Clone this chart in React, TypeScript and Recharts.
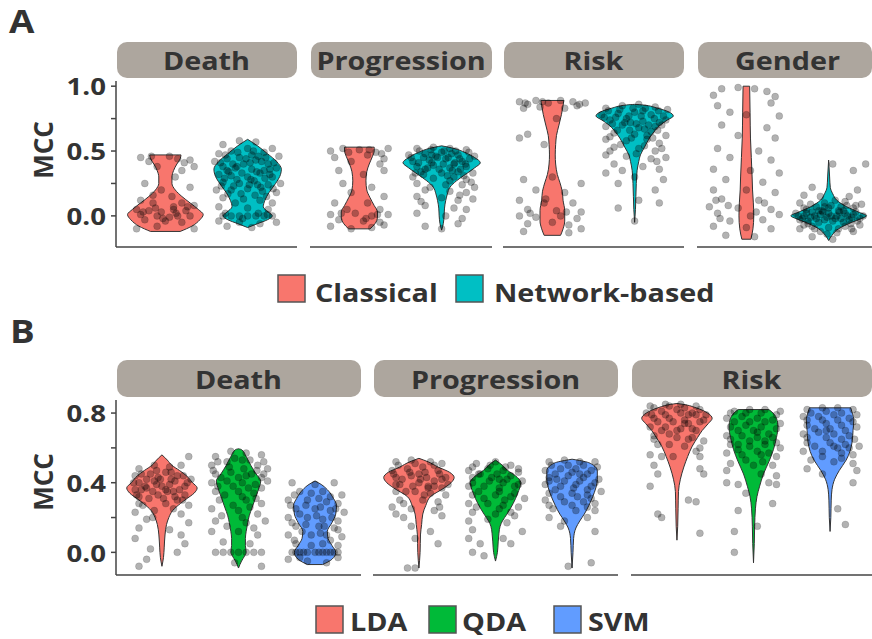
import React from 'react';
import { ComposedChart, Area, Scatter, XAxis, YAxis, ReferenceLine } from 'recharts';

// fill colours
const CLASSICAL = '#F8766D';
const NETWORK = '#00BFC4';
const LDA = '#F8766D';
const QDA = '#00BA38';
const SVM = '#619CFF';
const INK = '#333333';
const AXIS = '#444444';
const STRIP = '#ADA69E';
const FONT = '"Open Sans", "DejaVu Sans", sans-serif';

const facetsA = ['Death', 'Progression', 'Risk', 'Gender'];
const facetsB = ['Death', 'Progression', 'Risk'];
const groupsA = ['Classical', 'Network-based'];
const groupsB = ['LDA', 'QDA', 'SVM'];

const yTicksA = [0, 0.25, 0.5, 0.75, 1];
const yLabelsA = ['0.0', '', '0.5', '', '1.0'];
const yTicksB = [0, 0.2, 0.4, 0.6, 0.8];
const yLabelsB = ['0.0', '', '0.4', '', '0.8'];

// violin outlines, rows of [MCC, half width in category units]
const deathClassicalViolin = [[-0.12, 0.18], [-0.08, 0.32], [-0.03, 0.42], [0.01, 0.46], [0.05, 0.4], [0.1, 0.3], [0.15, 0.2], [0.2, 0.12], [0.25, 0.08], [0.3, 0.08], [0.35, 0.1], [0.4, 0.14], [0.44, 0.18], [0.47, 0.19]];
const deathNetworkViolin = [[-0.09, 0], [-0.06, 0.12], [-0.03, 0.24], [0, 0.3], [0.03, 0.25], [0.07, 0.19], [0.12, 0.21], [0.18, 0.26], [0.25, 0.34], [0.32, 0.4], [0.36, 0.41], [0.42, 0.35], [0.48, 0.24], [0.54, 0.12], [0.59, 0]];
const progClassicalViolin = [[-0.1, 0.13], [-0.06, 0.19], [-0.01, 0.22], [0.03, 0.22], [0.08, 0.18], [0.14, 0.13], [0.2, 0.09], [0.27, 0.08], [0.34, 0.09], [0.4, 0.12], [0.46, 0.16], [0.5, 0.18], [0.53, 0.18]];
const progNetworkViolin = [[-0.11, 0], [-0.06, 0.02], [0, 0.03], [0.06, 0.035], [0.12, 0.05], [0.17, 0.07], [0.22, 0.1], [0.27, 0.18], [0.32, 0.29], [0.37, 0.4], [0.41, 0.47], [0.45, 0.4], [0.49, 0.28], [0.52, 0.15], [0.54, 0]];
const riskClassicalViolin = [[-0.15, 0.1], [-0.1, 0.13], [-0.04, 0.15], [0.04, 0.15], [0.12, 0.13], [0.19, 0.12], [0.26, 0.09], [0.32, 0.06], [0.4, 0.04], [0.47, 0.035], [0.55, 0.04], [0.62, 0.05], [0.7, 0.08], [0.78, 0.11], [0.85, 0.13], [0.89, 0.14]];
const riskNetworkViolin = [[-0.05, 0], [0.05, 0.01], [0.15, 0.015], [0.25, 0.02], [0.35, 0.03], [0.42, 0.05], [0.47, 0.07], [0.53, 0.12], [0.6, 0.18], [0.66, 0.25], [0.7, 0.31], [0.74, 0.4], [0.77, 0.47], [0.8, 0.42], [0.83, 0.28], [0.855, 0.1], [0.86, 0]];
const genderClassicalViolin = [[-0.18, 0.055], [-0.1, 0.08], [0, 0.09], [0.1, 0.085], [0.2, 0.075], [0.3, 0.07], [0.45, 0.06], [0.6, 0.05], [0.8, 0.045], [1.0, 0.04]];
const genderNetworkViolin = [[-0.19, 0], [-0.15, 0.04], [-0.1, 0.12], [-0.05, 0.28], [-0.02, 0.4], [0, 0.46], [0.03, 0.36], [0.07, 0.22], [0.12, 0.1], [0.17, 0.05], [0.22, 0.02], [0.3, 0.012], [0.43, 0]];

const deathLdaViolin = [[-0.08, 0], [-0.03, 0.02], [0.03, 0.03], [0.1, 0.04], [0.16, 0.06], [0.2, 0.09], [0.24, 0.14], [0.28, 0.24], [0.31, 0.33], [0.34, 0.42], [0.37, 0.46], [0.4, 0.4], [0.44, 0.32], [0.47, 0.23], [0.5, 0.13], [0.53, 0.07], [0.56, 0]];
const deathQdaViolin = [[-0.09, 0], [-0.05, 0.04], [-0.02, 0.08], [0, 0.1], [0.04, 0.09], [0.08, 0.09], [0.12, 0.1], [0.17, 0.12], [0.21, 0.14], [0.26, 0.18], [0.31, 0.22], [0.36, 0.26], [0.41, 0.29], [0.45, 0.23], [0.5, 0.16], [0.55, 0.1], [0.59, 0.04], [0.595, 0]];
const deathSvmViolin = [[-0.07, 0.1], [-0.04, 0.22], [0, 0.27], [0.04, 0.22], [0.08, 0.17], [0.12, 0.16], [0.17, 0.22], [0.22, 0.27], [0.27, 0.28], [0.31, 0.24], [0.36, 0.16], [0.39, 0.08], [0.41, 0]];
const progLdaViolin = [[-0.09, 0], [0, 0.015], [0.1, 0.02], [0.16, 0.035], [0.22, 0.05], [0.27, 0.09], [0.32, 0.15], [0.37, 0.33], [0.4, 0.42], [0.43, 0.46], [0.46, 0.4], [0.49, 0.25], [0.52, 0.12], [0.54, 0]];
const progQdaViolin = [[-0.05, 0], [0, 0.025], [0.06, 0.035], [0.11, 0.045], [0.15, 0.06], [0.18, 0.09], [0.22, 0.15], [0.28, 0.23], [0.34, 0.29], [0.4, 0.33], [0.44, 0.26], [0.47, 0.16], [0.5, 0.09], [0.53, 0]];
const progSvmViolin = [[-0.09, 0], [0, 0.012], [0.08, 0.02], [0.14, 0.05], [0.18, 0.1], [0.22, 0.16], [0.27, 0.22], [0.32, 0.27], [0.37, 0.31], [0.42, 0.33], [0.47, 0.33], [0.5, 0.28], [0.52, 0.18], [0.535, 0]];
const riskLdaViolin = [[0.07, 0], [0.15, 0.01], [0.25, 0.015], [0.35, 0.02], [0.42, 0.045], [0.49, 0.09], [0.55, 0.14], [0.61, 0.2], [0.66, 0.27], [0.7, 0.33], [0.74, 0.41], [0.77, 0.46], [0.8, 0.4], [0.83, 0.25], [0.85, 0.08], [0.855, 0]];
const riskQdaViolin = [[-0.06, 0], [0.05, 0.01], [0.15, 0.015], [0.25, 0.025], [0.32, 0.045], [0.38, 0.08], [0.45, 0.13], [0.52, 0.2], [0.59, 0.26], [0.66, 0.3], [0.72, 0.32], [0.77, 0.3], [0.81, 0.23], [0.82, 0.2]];
const riskSvmViolin = [[0.12, 0], [0.2, 0.01], [0.3, 0.015], [0.36, 0.025], [0.42, 0.06], [0.47, 0.12], [0.53, 0.21], [0.58, 0.26], [0.64, 0.29], [0.7, 0.3], [0.76, 0.31], [0.8, 0.29], [0.83, 0.27]];

// jittered runs, flat pairs of [x offset, MCC]
const deathClassicalPts = [-0.3, 0.45, -0.2, 0.42, 0.05, 0.46, 0.15, 0.44, 0.3, 0.43, 0.35, 0.38, -0.1, 0.38, 0.2, 0.35, 0.12, 0.3, -0.25, 0.25, 0.3, 0.22, -0.05, 0.2, 0.08, 0.15, -0.3, 0.12, -0.15, 0.1, 0.2, 0.1, 0.35, 0.08, -0.35, 0.05, -0.2, 0.04, -0.05, 0.03, 0.1, 0.05, 0.25, 0.04, -0.3, 0.01, -0.1, 0, 0.05, -0.01, 0.15, 0, 0.3, 0, -0.25, -0.03, 0, -0.04, 0.2, -0.05, -0.35, -0.1, 0.35, -0.1, -0.1, -0.08, 0.1, 0.07, -0.15, 0.16,
  -0.17, 0.46, 0.23, 0.41, -0.27, 0.03, 0.13, 0.02, -0.12, 0.06, 0.27, 0.07, -0.03, -0.02];
const deathNetworkPts = [-0.3, 0.55, -0.1, 0.58, 0.1, 0.57, 0.3, 0.52, -0.35, 0.48, -0.2, 0.5, 0, 0.52, 0.2, 0.49, 0.38, 0.46, -0.4, 0.42, -0.25, 0.44, -0.1, 0.45, 0.1, 0.43, 0.25, 0.4, -0.3, 0.38, -0.15, 0.37, 0.05, 0.36, 0.2, 0.35, 0.35, 0.37, -0.35, 0.32, -0.2, 0.31, 0, 0.3, 0.15, 0.33, 0.3, 0.3, -0.3, 0.26, -0.1, 0.25, 0.08, 0.27, 0.25, 0.24, 0.4, 0.25, -0.38, 0.2, -0.2, 0.2, 0, 0.21, 0.18, 0.19, 0.35, 0.18, -0.3, 0.14, -0.05, 0.13, 0.15, 0.12, 0.3, 0.1, -0.35, 0.07, 0, 0.06, 0.25, 0.05, -0.3, 0, -0.2, 0, -0.1, 0, 0, 0, 0.1, 0, 0.2, 0, 0.3, 0, -0.35, -0.04, -0.1, -0.05, 0.15, -0.06, 0.35, -0.05, -0.25, -0.08, 0.05, -0.09, -0.05, 0.4, 0.05, 0.47, -0.25, 0.35, 0.12, 0.24, -0.15, 0.1,
  -0.27, 0.47, -0.12, 0.49, 0.07, 0.5, 0.22, 0.45, -0.33, 0.41, -0.18, 0.4, 0.03, 0.41, 0.17, 0.42, 0.32, 0.41, -0.23, 0.34, -0.07, 0.33, 0.11, 0.34, 0.27, 0.32, -0.28, 0.29, -0.13, 0.28, 0.04, 0.28, 0.21, 0.29, -0.17, 0.23, 0.02, 0.24, 0.16, 0.22, 0.31, 0.21, -0.24, 0.17, -0.08, 0.17, 0.09, 0.16, 0.23, 0.15, -0.13, 0.38, 0.13, 0.46, -0.02, 0.44, 0.27, 0.36, -0.32, 0.23, -0.27, 0.02, 0.24, 0.01, -0.06, -0.02, 0.13, 0.02];
const progClassicalPts = [-0.35, 0.5, -0.2, 0.52, 0, 0.51, 0.2, 0.49, 0.35, 0.52, -0.3, 0.45, 0.1, 0.47, 0.3, 0.44, -0.1, 0.42, 0.25, 0.4, -0.25, 0.35, 0.3, 0.35, 0.05, 0.32, -0.2, 0.25, 0.15, 0.22, -0.1, 0.18, 0.3, 0.15, -0.3, 0.1, 0.1, 0.1, -0.15, 0.05, 0.25, 0.05, -0.35, 0.01, -0.05, 0.02, 0.15, 0, 0.35, 0.01, -0.25, -0.03, 0.05, -0.04, 0.25, -0.05, -0.35, -0.08, -0.1, -0.1, 0.15, -0.09, 0.3, -0.07,
  -0.13, 0.49, 0.12, 0.51, 0.27, 0.48, -0.22, 0.02, 0.08, -0.02, 0.22, 0.01];
const progNetworkPts = [-0.3, 0.52, -0.1, 0.53, 0.1, 0.52, 0.3, 0.51, -0.4, 0.47, -0.2, 0.48, 0, 0.49, 0.2, 0.47, 0.4, 0.46, -0.35, 0.42, -0.15, 0.43, 0.05, 0.44, 0.25, 0.42, -0.3, 0.38, -0.1, 0.39, 0.1, 0.37, 0.3, 0.38, -0.25, 0.34, 0, 0.33, 0.2, 0.34, 0.38, 0.33, -0.35, 0.3, -0.1, 0.29, 0.15, 0.3, 0.3, 0.28, -0.3, 0.25, 0.05, 0.24, 0.25, 0.24, 0.4, 0.22, -0.2, 0.2, 0.1, 0.19, 0.3, 0.18, -0.3, 0.15, 0, 0.14, 0.2, 0.12, 0.38, 0.13, -0.2, 0.08, 0.15, 0.06, 0.3, 0.05, -0.3, 0.02, 0.05, 0, 0.25, -0.02, -0.2, -0.08, 0, -0.1, 0.2, -0.06, -0.05, 0.45, 0.15, 0.4, -0.2, 0.36, 0.1, 0.27,
  -0.27, 0.5, -0.13, 0.51, 0.03, 0.5, 0.17, 0.5, 0.33, 0.49, -0.37, 0.45, -0.22, 0.45, -0.07, 0.46, 0.08, 0.45, 0.22, 0.44, 0.34, 0.44, -0.28, 0.41, -0.12, 0.41, 0.02, 0.4, 0.16, 0.41, 0.29, 0.4, -0.17, 0.37, -0.03, 0.36, 0.13, 0.35, 0.23, 0.36, -0.22, 0.32, 0.07, 0.31, 0.27, 0.31, -0.12, 0.47, 0.12, 0.48, -0.32, 0.33, 0.36, 0.26, -0.14, 0.22, 0.22, 0.16, -0.25, 0.11];
const riskClassicalPts = [-0.4, 0.88, -0.3, 0.86, -0.2, 0.89, -0.05, 0.87, 0.1, 0.89, 0.25, 0.88, 0.4, 0.87, -0.35, 0.83, -0.15, 0.84, 0.15, 0.83, 0.3, 0.85, 0.05, 0.75, -0.3, 0.63, -0.4, 0.6, -0.1, 0.55, -0.35, 0.28, 0, 0.3, 0.35, 0.25, -0.2, 0.2, 0.15, 0.18, -0.4, 0.12, -0.1, 0.1, 0.25, 0.1, -0.3, 0.05, 0.05, 0.04, 0.35, 0.03, -0.4, 0, -0.2, -0.01, 0.1, 0, 0.3, -0.02, -0.3, -0.06, 0, -0.05, 0.2, -0.07, 0.35, -0.1, -0.35, -0.12, 0.2, -0.13,
  -0.33, 0.87, 0.33, 0.86, -0.12, 0.88, -0.27, 0.02, 0.17, 0.03, -0.08, 0.13];
const riskNetworkPts = [-0.35, 0.83, -0.15, 0.85, 0.05, 0.86, 0.25, 0.84, 0.4, 0.82, -0.4, 0.78, -0.2, 0.79, 0, 0.8, 0.2, 0.78, 0.35, 0.77, -0.3, 0.74, -0.1, 0.75, 0.1, 0.73, 0.3, 0.72, -0.35, 0.69, -0.15, 0.7, 0.05, 0.68, 0.25, 0.69, -0.25, 0.64, 0, 0.63, 0.2, 0.65, 0.38, 0.62, -0.35, 0.59, -0.1, 0.58, 0.15, 0.59, 0.3, 0.56, -0.25, 0.53, 0.05, 0.52, 0.25, 0.5, -0.35, 0.47, -0.1, 0.46, 0.2, 0.44, 0.38, 0.45, -0.25, 0.4, 0.1, 0.38, 0.3, 0.36, -0.35, 0.33, 0, 0.3, 0.35, 0.28, -0.2, 0.25, 0.25, 0.2, 0.05, 0.12, 0.3, 0.1, -0.2, 0.06, 0, -0.04, 0.1, 0.81, -0.05, 0.72, 0.15, 0.62,
  -0.32, 0.81, -0.18, 0.82, -0.02, 0.83, 0.13, 0.83, 0.29, 0.81, -0.37, 0.76, -0.23, 0.76, -0.07, 0.77, 0.08, 0.77, 0.24, 0.75, 0.38, 0.74, -0.27, 0.71, -0.12, 0.72, 0.02, 0.71, 0.17, 0.7, 0.33, 0.7, -0.21, 0.66, -0.06, 0.66, 0.12, 0.67, 0.28, 0.66, -0.3, 0.61, -0.04, 0.6, 0.22, 0.6, -0.17, 0.55, 0.12, 0.54, 0.33, 0.52, -0.3, 0.5, 0.02, 0.48, 0.27, 0.42, -0.15, 0.35];
const genderClassicalPts = [-0.3, 0.98, -0.1, 0.99, 0.1, 0.98, 0.25, 0.96, -0.4, 0.93, 0.35, 0.92, -0.35, 0.85, 0.3, 0.87, -0.2, 0.8, 0, 0.78, 0.4, 0.77, -0.3, 0.7, 0.25, 0.68, -0.1, 0.62, 0.35, 0.6, -0.35, 0.52, 0.15, 0.5, -0.2, 0.45, 0.3, 0.43, -0.4, 0.36, 0.05, 0.35, 0.4, 0.33, -0.25, 0.28, 0.2, 0.26, -0.4, 0.2, 0, 0.2, 0.35, 0.18, -0.3, 0.13, 0.15, 0.12, -0.45, 0.07, -0.1, 0.06, 0.3, 0.05, -0.35, 0.02, 0.05, 0, 0.4, 0.01, -0.2, -0.04, 0.2, -0.03, -0.4, -0.08, 0, -0.09, 0.3, -0.1, -0.25, -0.15, 0.1, -0.16,
  -0.37, 0.12, -0.22, 0.08, 0.22, 0.1, -0.32, -0.02, 0.12, 0.03];
const genderNetworkPts = [-0.4, 0.02, -0.3, 0, -0.2, 0.03, -0.1, 0.01, 0, 0.02, 0.1, 0, 0.2, 0.02, 0.3, 0.01, 0.42, 0, -0.35, -0.03, -0.25, -0.04, -0.15, -0.02, -0.05, -0.03, 0.05, -0.04, 0.15, -0.02, 0.25, -0.03, 0.35, -0.04, -0.3, 0.06, -0.15, 0.07, 0, 0.06, 0.15, 0.07, 0.3, 0.06, -0.35, 0.1, -0.05, 0.1, 0.2, 0.11, 0.4, 0.09, -0.2, -0.08, 0, -0.09, 0.2, -0.08, 0.38, -0.07, -0.35, -0.1, -0.1, -0.12, 0.1, -0.13, 0.3, -0.12, -0.2, -0.16, 0.05, -0.18, -0.3, 0.16, 0.25, 0.15, -0.1, 0.15, 0.35, 0.2, -0.2, 0.22, 0.3, 0.35, 0.05, 0.4, 0.45, 0.4, -0.25, -0.06, 0.12, 0.04, -0.08, 0.04, 0.28, -0.1,
  -0.37, 0, -0.27, 0.02, -0.17, 0, -0.07, 0.03, 0.03, 0, 0.13, 0.03, 0.23, 0, 0.33, 0.03, -0.32, -0.02, -0.22, -0.01, -0.12, -0.05, -0.02, -0.01, 0.08, -0.02, 0.18, -0.05, 0.28, -0.01, 0.38, -0.02, -0.27, 0.05, -0.12, 0.04, 0.03, 0.08, 0.18, 0.04, 0.33, 0.08, -0.22, 0.09, 0.08, 0.12, -0.17, -0.1, 0.12, -0.1, 0.27, -0.06, -0.02, -0.14, -0.3, -0.07, 0.22, 0.08, -0.05, 0.07];

const deathLdaPts = [-0.3, 0.48, -0.1, 0.5, 0.1, 0.49, 0.35, 0.55, 0.25, 0.5, -0.35, 0.44, -0.15, 0.45, 0.05, 0.46, 0.2, 0.44, 0.38, 0.42, -0.3, 0.4, -0.1, 0.41, 0.1, 0.39, 0.3, 0.38, -0.35, 0.36, -0.2, 0.37, 0, 0.38, 0.15, 0.35, 0.3, 0.33, -0.3, 0.32, -0.05, 0.33, 0.2, 0.3, -0.25, 0.27, 0.05, 0.28, 0.35, 0.27, -0.35, 0.23, -0.1, 0.24, 0.25, 0.22, -0.2, 0.19, 0.35, 0.17, -0.3, 0.14, 0.1, 0.13, 0.25, 0.1, -0.35, 0.08, 0.3, 0.05, -0.15, 0.02, 0.2, 0, -0.2, -0.04, -0.3, -0.08, 0.05, 0.36, -0.05, 0.43,
  -0.27, 0.45, -0.07, 0.47, 0.12, 0.46, 0.28, 0.44, -0.37, 0.4, -0.2, 0.42, -0.02, 0.42, 0.17, 0.41, 0.33, 0.4, -0.27, 0.36, -0.12, 0.35, 0.07, 0.35, 0.23, 0.36, -0.33, 0.33, -0.17, 0.31, 0.02, 0.31, 0.17, 0.32, -0.22, 0.38, 0.12, 0.42, -0.07, 0.39, 0.27, 0.3, -0.3, 0.28, 0.15, 0.25, -0.12, 0.2];
const deathQdaPts = [-0.3, 0.55, -0.1, 0.58, 0.1, 0.57, 0.3, 0.56, -0.35, 0.5, -0.15, 0.52, 0.05, 0.53, 0.25, 0.5, 0.38, 0.48, -0.3, 0.45, -0.1, 0.46, 0.1, 0.44, 0.3, 0.43, -0.35, 0.4, -0.15, 0.41, 0.05, 0.4, 0.22, 0.39, 0.38, 0.41, -0.3, 0.35, 0, 0.35, 0.2, 0.34, -0.25, 0.3, 0.1, 0.3, 0.3, 0.28, -0.35, 0.25, 0, 0.24, 0.25, 0.22, -0.3, 0.18, 0.1, 0.17, 0.35, 0.18, -0.35, 0.12, 0, 0.12, 0.25, 0.1, -0.2, 0.06, 0.15, 0.05, -0.3, 0, -0.2, 0, -0.1, 0, 0, 0, 0.1, 0, 0.2, 0, 0.3, 0, 0.3, -0.08, -0.05, -0.06,
  -0.27, 0.52, -0.05, 0.54, 0.15, 0.53, 0.33, 0.52, -0.33, 0.47, -0.12, 0.49, 0.07, 0.48, 0.24, 0.47, -0.23, 0.43, 0, 0.43, 0.17, 0.45, 0.33, 0.45, -0.27, 0.38, -0.07, 0.38, 0.13, 0.37, 0.3, 0.37, -0.18, 0.33, 0.05, 0.32, 0.23, 0.31, -0.07, 0.27, 0.15, 0.26, -0.22, 0.21, 0.05, 0.2, -0.15, 0.15, 0.2, 0.14];
const deathSvmPts = [-0.3, 0.4, 0, 0.39, 0.25, 0.4, -0.2, 0.35, 0.1, 0.35, 0.35, 0.33, -0.35, 0.3, -0.1, 0.3, 0.15, 0.29, 0.3, 0.28, -0.25, 0.25, 0, 0.25, 0.2, 0.24, 0.38, 0.23, -0.35, 0.2, -0.1, 0.2, 0.1, 0.19, 0.3, 0.18, -0.25, 0.15, 0.05, 0.15, 0.25, 0.14, -0.35, 0.1, -0.05, 0.1, 0.15, 0.1, 0.35, 0.09, -0.25, 0.05, 0.1, 0.05, 0.3, 0.04, -0.3, 0, -0.2, 0, -0.1, 0, 0, 0, 0.1, 0, 0.2, 0, 0.3, 0, -0.35, -0.04, -0.1, -0.05, 0.15, -0.06, 0.3, -0.03, 0.05, 0.31,
  -0.27, 0.33, -0.05, 0.34, 0.2, 0.32, -0.32, 0.27, -0.12, 0.27, 0.07, 0.26, 0.27, 0.25, -0.2, 0.22, 0.02, 0.21, 0.22, 0.2, -0.3, 0.17, -0.12, 0.16, 0.12, 0.15, 0.3, 0.13, -0.17, 0.12, 0.07, 0.11, -0.27, 0.07, 0.2, 0.07, -0.05, 0.04, -0.25, 0, -0.15, 0, 0.05, 0, 0.15, 0, 0.25, 0, -0.2, -0.03];
const progLdaPts = [-0.3, 0.52, -0.1, 0.53, 0.15, 0.52, 0.3, 0.51, -0.35, 0.47, -0.15, 0.48, 0.05, 0.49, 0.25, 0.47, -0.3, 0.43, -0.1, 0.44, 0.1, 0.43, 0.3, 0.42, -0.25, 0.39, 0, 0.4, 0.2, 0.38, 0.38, 0.39, -0.3, 0.35, -0.05, 0.35, 0.15, 0.34, 0.35, 0.33, -0.25, 0.3, 0.05, 0.3, 0.25, 0.29, -0.35, 0.26, -0.1, 0.25, 0.2, 0.24, -0.2, 0.2, 0.3, 0.21, -0.1, 0.15, 0.15, 0.12, -0.05, 0.08, 0.25, 0.05, -0.15, -0.09, -0.05, -0.09, 0, 0.45, 0.12, 0.37,
  -0.27, 0.5, -0.05, 0.51, 0.2, 0.5, -0.33, 0.45, -0.12, 0.46, 0.08, 0.46, 0.27, 0.45, -0.22, 0.42, 0.02, 0.42, 0.2, 0.41, 0.35, 0.43, -0.3, 0.39, -0.08, 0.38, 0.12, 0.38, 0.3, 0.37, -0.17, 0.35, 0.07, 0.33, -0.2, 0.28, 0.27, 0.26, -0.3, 0.22];
const progQdaPts = [-0.25, 0.51, 0, 0.52, 0.2, 0.5, -0.35, 0.47, -0.1, 0.48, 0.1, 0.47, 0.3, 0.46, -0.3, 0.43, -0.05, 0.43, 0.15, 0.42, 0.35, 0.41, -0.35, 0.38, -0.15, 0.38, 0.05, 0.37, 0.25, 0.38, -0.3, 0.33, 0, 0.33, 0.2, 0.32, 0.38, 0.31, -0.35, 0.28, -0.1, 0.28, 0.1, 0.27, 0.3, 0.26, -0.3, 0.23, 0, 0.22, 0.25, 0.21, -0.35, 0.18, 0.15, 0.17, -0.3, 0.13, 0.35, 0.12, -0.35, 0.08, 0.1, 0.08, -0.2, 0.05, 0.2, 0.05, -0.3, 0, -0.15, -0.02, 0.05, 0.42, -0.2, 0.45,
  -0.3, 0.49, -0.07, 0.5, 0.13, 0.49, 0.3, 0.48, -0.22, 0.45, 0.02, 0.45, 0.2, 0.44, -0.3, 0.4, -0.08, 0.41, 0.1, 0.4, 0.3, 0.39, -0.22, 0.35, 0.05, 0.35, 0.25, 0.34, -0.15, 0.31, 0.12, 0.3, -0.25, 0.26, 0.05, 0.25, 0.2, 0.23, -0.1, 0.19];
const progSvmPts = [-0.3, 0.52, -0.1, 0.53, 0.1, 0.52, 0.3, 0.52, -0.35, 0.47, -0.15, 0.48, 0.05, 0.48, 0.25, 0.47, -0.3, 0.43, -0.05, 0.44, 0.15, 0.43, 0.35, 0.42, -0.35, 0.39, -0.15, 0.38, 0.05, 0.39, 0.25, 0.38, -0.3, 0.34, 0, 0.34, 0.2, 0.33, 0.38, 0.35, -0.35, 0.3, -0.1, 0.29, 0.15, 0.29, 0.3, 0.28, -0.25, 0.25, 0.05, 0.24, 0.3, 0.24, -0.3, 0.2, -0.1, 0.18, 0.2, 0.2, 0.3, 0.12, -0.15, 0.15, 0.25, -0.06, -0.05, -0.08, 0.1, 0.45, -0.2, 0.42,
  -0.27, 0.5, -0.05, 0.5, 0.15, 0.5, 0.33, 0.49, -0.22, 0.45, 0, 0.46, 0.2, 0.45, -0.3, 0.41, -0.1, 0.41, 0.1, 0.41, 0.3, 0.4, -0.22, 0.36, 0.02, 0.37, 0.2, 0.36, -0.15, 0.32, 0.07, 0.32, 0.25, 0.31, -0.3, 0.27, 0, 0.27, 0.2, 0.26];
const riskLdaPts = [-0.35, 0.84, -0.15, 0.85, 0.05, 0.85, 0.25, 0.84, -0.4, 0.8, -0.2, 0.81, 0, 0.82, 0.2, 0.8, 0.38, 0.79, -0.3, 0.77, -0.1, 0.77, 0.1, 0.76, 0.3, 0.75, -0.35, 0.72, -0.15, 0.72, 0.05, 0.71, 0.25, 0.7, -0.3, 0.67, 0, 0.66, 0.2, 0.66, 0.35, 0.64, -0.25, 0.62, 0.1, 0.61, 0.3, 0.6, -0.35, 0.56, -0.05, 0.55, 0.3, 0.55, -0.3, 0.5, 0.3, 0.48, -0.25, 0.45, 0.35, 0.45, -0.35, 0.38, 0.15, 0.3, 0.25, 0.29, -0.25, 0.22, -0.2, 0.2, 0.3, 0.11, 0.1, 0.74, -0.1, 0.68, 0.15, 0.79,
  -0.3, 0.83, -0.1, 0.84, 0.1, 0.83, 0.3, 0.82, -0.33, 0.79, -0.15, 0.79, 0.05, 0.8, 0.25, 0.79, -0.25, 0.75, -0.05, 0.75, 0.15, 0.74, 0.35, 0.76, -0.2, 0.7, 0, 0.7, 0.2, 0.71, -0.3, 0.65, 0.15, 0.65, -0.1, 0.62, 0.25, 0.58, -0.2, 0.55];
const riskQdaPts = [-0.25, 0.81, -0.05, 0.82, 0.15, 0.82, 0.35, 0.81, -0.35, 0.77, -0.15, 0.78, 0.05, 0.77, 0.25, 0.76, -0.3, 0.72, -0.1, 0.73, 0.1, 0.72, 0.3, 0.71, -0.35, 0.67, -0.15, 0.67, 0.05, 0.66, 0.25, 0.66, -0.3, 0.62, -0.05, 0.61, 0.15, 0.62, 0.35, 0.6, -0.35, 0.57, -0.15, 0.56, 0.1, 0.56, 0.3, 0.55, -0.3, 0.51, 0, 0.5, 0.25, 0.5, -0.35, 0.47, 0.1, 0.45, 0.3, 0.44, -0.35, 0.4, -0.2, 0.39, 0.2, 0.4, 0.3, 0.39, -0.1, 0.34, 0.25, 0.28, -0.2, 0.24, 0.05, 0.15, -0.25, 0.12, -0.25, 0, 0, 0.7, -0.2, 0.62,
  -0.3, 0.8, -0.1, 0.8, 0.1, 0.8, 0.3, 0.79, -0.25, 0.75, -0.05, 0.75, 0.15, 0.75, 0.35, 0.74, -0.2, 0.7, 0.05, 0.69, 0.2, 0.68, -0.3, 0.65, -0.05, 0.64, 0.15, 0.64, 0.3, 0.63, -0.2, 0.59, 0.05, 0.58, 0.2, 0.57, -0.1, 0.53, 0.12, 0.52];
const riskSvmPts = [-0.3, 0.82, -0.1, 0.83, 0.1, 0.83, 0.3, 0.82, -0.35, 0.78, -0.15, 0.78, 0.05, 0.79, 0.25, 0.77, -0.3, 0.73, -0.05, 0.74, 0.15, 0.73, 0.35, 0.72, -0.35, 0.68, -0.15, 0.69, 0.05, 0.68, 0.25, 0.67, -0.3, 0.63, 0, 0.63, 0.2, 0.62, 0.38, 0.61, -0.35, 0.58, -0.1, 0.58, 0.15, 0.57, 0.3, 0.56, -0.25, 0.53, 0.05, 0.52, 0.3, 0.51, -0.3, 0.48, 0.35, 0.47, -0.1, 0.45, 0.3, 0.4, 0.1, 0.25, 0.2, 0.16, -0.05, 0.7, 0.1, 0.6,
  -0.25, 0.8, -0.05, 0.81, 0.15, 0.8, 0.35, 0.79, -0.3, 0.76, -0.1, 0.76, 0.1, 0.76, 0.3, 0.75, -0.2, 0.71, 0, 0.71, 0.2, 0.7, -0.3, 0.66, -0.05, 0.66, 0.15, 0.65, 0.32, 0.65, -0.2, 0.61, 0.05, 0.61, 0.25, 0.6, -0.1, 0.55, 0.15, 0.54];

type Group = { violin: number[][]; pts: number[]; color: string };

const panelA: Group[][] = [
  [{ violin: deathClassicalViolin, pts: deathClassicalPts, color: CLASSICAL }, { violin: deathNetworkViolin, pts: deathNetworkPts, color: NETWORK }],
  [{ violin: progClassicalViolin, pts: progClassicalPts, color: CLASSICAL }, { violin: progNetworkViolin, pts: progNetworkPts, color: NETWORK }],
  [{ violin: riskClassicalViolin, pts: riskClassicalPts, color: CLASSICAL }, { violin: riskNetworkViolin, pts: riskNetworkPts, color: NETWORK }],
  [{ violin: genderClassicalViolin, pts: genderClassicalPts, color: CLASSICAL }, { violin: genderNetworkViolin, pts: genderNetworkPts, color: NETWORK }],
];
const panelB: Group[][] = [
  [{ violin: deathLdaViolin, pts: deathLdaPts, color: LDA }, { violin: deathQdaViolin, pts: deathQdaPts, color: QDA }, { violin: deathSvmViolin, pts: deathSvmPts, color: SVM }],
  [{ violin: progLdaViolin, pts: progLdaPts, color: LDA }, { violin: progQdaViolin, pts: progQdaPts, color: QDA }, { violin: progSvmViolin, pts: progSvmPts, color: SVM }],
  [{ violin: riskLdaViolin, pts: riskLdaPts, color: LDA }, { violin: riskQdaViolin, pts: riskQdaPts, color: QDA }, { violin: riskSvmViolin, pts: riskSvmPts, color: SVM }],
];

const Dot = (p: any) => (
  <circle cx={p.cx} cy={p.cy} r={3.5} fill="#000" fillOpacity={0.3} stroke="#000" strokeOpacity={0.15} strokeWidth={0.8} />
);

const YTick = (p: any) => {
  const i = p.ticks.indexOf(p.payload.value);
  return (
    <text transform={`translate(${p.x},${p.y}) scale(1.15,1)`} textAnchor="end" dominantBaseline="central"
      fontFamily={FONT} fontWeight={700} fontSize={24} fill={INK}>
      {p.labels[i]}
    </text>
  );
};

type FacetProps = {
  left: number; top: number; width: number; height: number; xMax: number;
  yDomain: number[]; yTicks: number[]; yLabels: string[]; groups: Group[]; showY: boolean;
};

const PAD = 14;

function Facet({ left, top, width, height, xMax, yDomain, yTicks, yLabels, groups, showY }: FacetProps) {
  const axisW = showY ? 100 : 0;
  const xTicks = groups.map((_, i) => i + 1);
  return (
    <div style={{ position: 'absolute', left: left - axisW, top: top - PAD }}>
      <ComposedChart layout="vertical" width={width + axisW} height={height + 10 + PAD} margin={{ top: PAD, right: 0, bottom: 0, left: 0 }}>
        <XAxis type="number" dataKey="x" domain={[0.4, xMax]} ticks={xTicks} tick={false} height={10} tickSize={5}
          axisLine={{ stroke: AXIS, strokeWidth: 1.5 }} tickLine={{ stroke: AXIS, strokeWidth: 1.5 }} allowDataOverflow />
        <YAxis type="number" dataKey="y" reversed domain={yDomain} ticks={yTicks} interval={0} hide={!showY} width={axisW}
          tickSize={5} tickMargin={5} axisLine={{ stroke: AXIS, strokeWidth: 1.5 }} tickLine={{ stroke: AXIS, strokeWidth: 1.5 }}
          tick={(p: any) => <YTick {...p} ticks={yTicks} labels={yLabels} />} allowDataOverflow />
        {groups.map((g, i) => (
          <Area key={`v${i}`} data={g.violin.map(([y, w]) => ({ y, band: [i + 1 - w, i + 1 + w] }))} dataKey="band"
            type="monotone" fill={g.color} fillOpacity={1} stroke="#333" strokeWidth={1} dot={false} activeDot={false}
            isAnimationActive={false} />
        ))}
        {groups.flatMap((g, i) =>
          [g.violin[0], g.violin[g.violin.length - 1]]
            .filter(([, w]) => w > 0.03)
            .map(([y, w], k) => (
              <ReferenceLine key={`e${i}-${k}`} segment={[{ x: i + 1 - w, y }, { x: i + 1 + w, y }]} stroke="#333" strokeWidth={1} />
            )),
        )}
        {groups.map((g, i) => {
          const pts = [];
          for (let k = 0; k < g.pts.length; k += 2) pts.push({ x: i + 1 + g.pts[k], y: g.pts[k + 1] });
          return <Scatter key={`p${i}`} data={pts} shape={Dot} isAnimationActive={false} />;
        })}
      </ComposedChart>
    </div>
  );
}

const txt = { fontFamily: FONT, fontWeight: 700, fill: INK } as const;

export default function App() {
  const leftsA = [116, 310, 503, 697];
  const widthsA = [181, 182, 181, 175];
  const leftsB = [116, 373, 631];
  const widthsB = [245, 245, 241];
  const keysA = [[278, 315], [456, 494]];
  const keysB = [[316, 350], [429, 462], [554, 588]];
  const colorsA = [CLASSICAL, NETWORK];
  const colorsB = [LDA, QDA, SVM];

  return (
    <div style={{ position: 'absolute', left: 0, top: 0, width: 872, height: 639, background: '#fff', overflow: 'hidden' }}>
      <svg width={872} height={639} style={{ position: 'absolute', left: 0, top: 0 }}>
        <text transform="translate(9,33) scale(1.15,1)" fontSize={32} {...txt}>A</text>
        <text transform="translate(10,343) scale(1.15,1)" fontSize={32} {...txt}>B</text>
        <text transform="translate(53,150) rotate(-90)" textAnchor="middle" fontSize={26} {...txt}>MCC</text>
        <text transform="translate(53,482) rotate(-90)" textAnchor="middle" fontSize={26} {...txt}>MCC</text>
        {facetsA.map((f, i) => (
          <g key={f}>
            <rect x={leftsA[i] + 1} y={42} width={widthsA[i] - 1} height={36} rx={10} fill={STRIP} />
            <text transform={`translate(${leftsA[i] + widthsA[i] / 2 + (i === 3 ? 3 : 0)},70) scale(1.15,1)`} textAnchor="middle" fontSize={25} {...txt}>{f}</text>
          </g>
        ))}
        {facetsB.map((f, i) => (
          <g key={f}>
            <rect x={leftsB[i] + 1} y={360} width={widthsB[i] - 1} height={37} rx={10} fill={STRIP} />
            <text transform={`translate(${leftsB[i] + widthsB[i] / 2},389) scale(1.15,1)`} textAnchor="middle" fontSize={25} {...txt}>{f}</text>
          </g>
        ))}
        {groupsA.map((g, i) => (
          <g key={g}>
            <rect x={keysA[i][0]} y={275} width={27} height={27} fill={colorsA[i]} stroke="#555" strokeWidth={1.5} />
            <text transform={`translate(${keysA[i][1]},302) scale(1.15,1)`} fontSize={25} {...txt}>{g}</text>
          </g>
        ))}
        {groupsB.map((g, i) => (
          <g key={g}>
            <rect x={keysB[i][0]} y={606} width={27} height={27} fill={colorsB[i]} stroke="#555" strokeWidth={1.5} />
            <text transform={`translate(${keysB[i][1]},631) scale(1.15,1)`} fontSize={25} {...txt}>{g}</text>
          </g>
        ))}
      </svg>
      {panelA.map((groups, i) => (
        <Facet key={`a${i}`} left={leftsA[i]} top={81} width={widthsA[i]} height={166}
          xMax={0.4 + (2.2 * widthsA[i]) / 181} yDomain={[-0.24, 1.04]} yTicks={yTicksA} yLabels={yLabelsA}
          groups={groups} showY={i === 0} />
      ))}
      {panelB.map((groups, i) => (
        <Facet key={`b${i}`} left={leftsB[i]} top={400} width={widthsB[i]} height={175}
          xMax={0.4 + (3.2 * widthsB[i]) / 245} yDomain={[-0.13, 0.875]} yTicks={yTicksB} yLabels={yLabelsB}
          groups={groups} showY={i === 0} />
      ))}
    </div>
  );
}
